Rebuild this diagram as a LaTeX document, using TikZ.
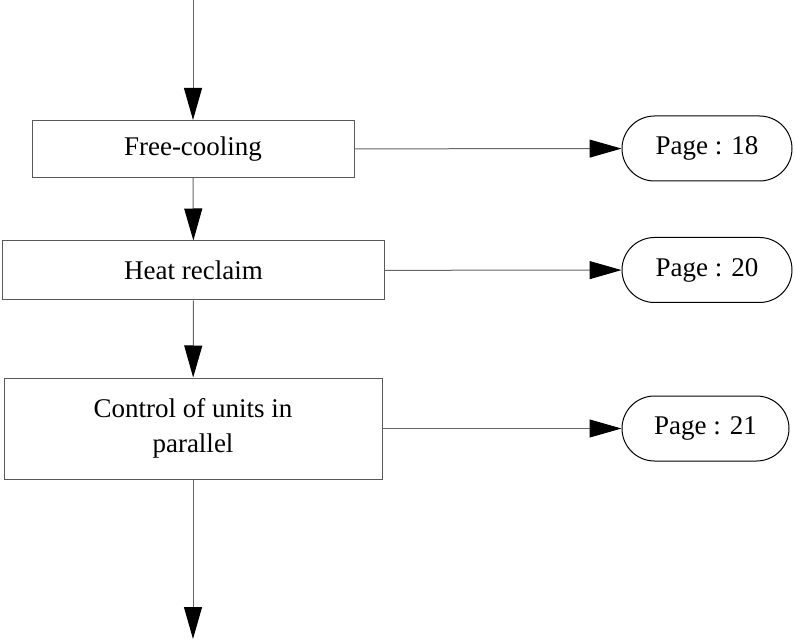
\documentclass[tikz,border=0pt]{standalone}
\usepackage{fontspec}
\setmainfont{Liberation Serif}
\usetikzlibrary{arrows.meta}
\usetikzlibrary{shapes.misc}

\begin{document}
\begin{tikzpicture}[x=1pt, y=-1pt,
  stagebox/.style={rectangle, draw=black!65, line width=1pt, align=center,
    font=\fontsize{27}{35}\selectfont, inner sep=0pt},
  pagebox/.style={rounded rectangle, draw=black, line width=1pt,
    minimum width=170pt, minimum height=65pt,
    font=\fontsize{27}{35}\selectfont, inner sep=0pt},
  flow/.style={draw=black!60, line width=1pt,
    -{Triangle[length=32pt, width=18pt, black]}}]

%─────────────
% Canvas
%─────────────
\useasboundingbox (0,0) rectangle (795,644);

%─────────────
% Stages of the sequence
%─────────────
\node[stagebox, minimum width=322pt, minimum height=57pt] (freecool) at (193,149) {Free-cooling};
\node[stagebox, minimum width=382pt, minimum height=59pt] (heatrec) at (193.5,270.5) {Heat reclaim};
\node[stagebox, minimum width=378pt, minimum height=101pt] (parallel) at (193,428.5) {Control of units in\\parallel};

%─────────────
% Page references
%─────────────
\node[pagebox] (page18) at (707,148.5) {Page : 18};
\node[pagebox] (page20) at (707,270) {Page : 20};
\node[pagebox, minimum width=167pt] (page21) at (705.5,428.5) {Page : 21};

% free ends of the main line
\coordinate (entry) at (193,0);
\coordinate (exit) at (193,639);

%─────────────
% Connectors
%─────────────
\draw[flow] (entry) -- (freecool.north);
\draw[flow] (freecool) -- (heatrec);
\draw[flow] (heatrec) -- (parallel);
\draw[flow] (parallel.south) -- (exit);

\draw[flow] (freecool) -- (page18);
\draw[flow] (heatrec) -- (page20);
\draw[flow] (parallel) -- (page21);

\end{tikzpicture}
\end{document}
